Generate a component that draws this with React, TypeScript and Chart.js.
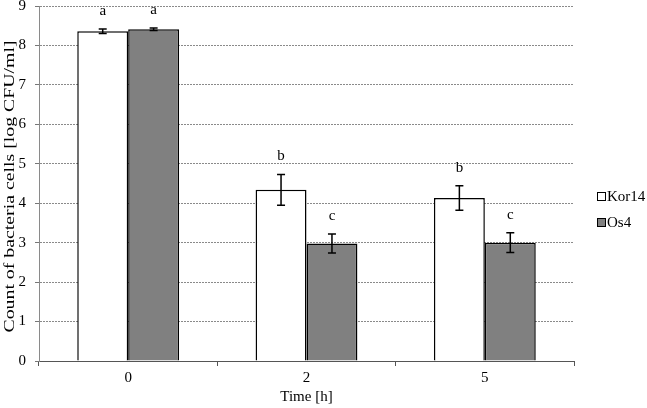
import React, { useEffect, useRef } from "react";
import { Chart, registerables } from "chart.js";

Chart.register(...registerables);

const categories = ["0", "2", "5"];
const seriesNames = ["Kor14", "Os4"];
const kor14 = [8.36, 4.34, 4.13];
const kor14Err = [0.06, 0.39, 0.31];
const os4 = [8.41, 2.98, 3.0];
const os4Err = [0.03, 0.24, 0.25];
const kor14Letters = ["a", "b", "b"];
const os4Letters = ["a", "c", "c"];
const yTicks = [0, 1, 2, 3, 4, 5, 6, 7, 8, 9];
const yTitle = "Count of bacteria cells [log CFU/ml]";
const xTitle = "Time [h]";

const FONT = "'Liberation Serif', 'Times New Roman', serif";

const errs = [kor14Err, os4Err];
const letters = [kor14Letters, os4Letters];
const fills = ["#ffffff", "#808080"];

const annotPlugin = {
  id: "annot",
  afterDatasetsDraw(chart: any) {
    const ctx = chart.ctx;
    const y = chart.scales.y;
    ctx.save();
    chart.data.datasets.forEach((ds: any, di: number) => {
      const meta = chart.getDatasetMeta(di);
      meta.data.forEach((bar: any, i: number) => {
        const v = ds.data[i];
        const e = errs[di][i];
        const x = bar.x;
        const yt = y.getPixelForValue(v + e);
        const yb = y.getPixelForValue(v - e);
        ctx.strokeStyle = "#000";
        ctx.lineWidth = 1.5;
        ctx.beginPath();
        ctx.moveTo(x, yt);
        ctx.lineTo(x, yb);
        ctx.moveTo(x - 4, yt);
        ctx.lineTo(x + 4, yt);
        ctx.moveTo(x - 4, yb);
        ctx.lineTo(x + 4, yb);
        ctx.stroke();
        ctx.fillStyle = "#000";
        ctx.font = `15px ${FONT}`;
        ctx.textAlign = "center";
        ctx.textBaseline = "alphabetic";
        ctx.fillText(letters[di][i], x, yt - 14);
      });
    });
    // legend
    ctx.font = `15px ${FONT}`;
    ctx.textAlign = "left";
    ctx.textBaseline = "middle";
    seriesNames.forEach((name, i) => {
      const cy = 196 + i * 26;
      ctx.fillStyle = fills[i];
      ctx.fillRect(597, cy - 4, 8, 8);
      ctx.strokeStyle = "#000";
      ctx.lineWidth = 1;
      ctx.strokeRect(597.5, cy - 3.5, 8, 8);
      ctx.fillStyle = "#000";
      ctx.fillText(name, 607, cy + 1);
    });
    // y-axis title (stretched along its length like the reference)
    const area = chart.chartArea;
    ctx.translate(10, (area.top + area.bottom) / 2 + 3);
    ctx.rotate(-Math.PI / 2);
    ctx.scale(1.32, 1);
    ctx.font = `15px ${FONT}`;
    ctx.textAlign = "center";
    ctx.textBaseline = "middle";
    ctx.fillStyle = "#000";
    ctx.fillText(yTitle, 0, 0);
    ctx.restore();
  },
};

export default function App() {
  const ref = useRef<HTMLCanvasElement>(null);
  useEffect(() => {
    if (!ref.current) return;
    const chart = new Chart(ref.current, {
      type: "bar",
      data: {
        labels: categories,
        datasets: [
          {
            label: seriesNames[0],
            data: kor14,
            backgroundColor: fills[0],
            borderColor: "#000",
            borderWidth: 1.5,
            categoryPercentage: 0.571,
            barPercentage: 1.0,
          },
          {
            label: seriesNames[1],
            data: os4,
            backgroundColor: fills[1],
            borderColor: "#000",
            borderWidth: 1.5,
            categoryPercentage: 0.571,
            barPercentage: 1.0,
          },
        ],
      },
      options: {
        responsive: false,
        animation: false,
        layout: { padding: { left: 0, right: 73, top: 6, bottom: 0 } },
        plugins: {
          legend: { display: false },
          tooltip: { enabled: false },
        },
        scales: {
          x: {
            afterFit(scale: any) {
              scale.height = 47;
            },
            grid: {
              drawOnChartArea: false,
              drawTicks: true,
              tickLength: 5,
              color: "#555",
              offset: true,
            },
            border: { display: true, color: "#555", width: 1 },
            ticks: { color: "#000", font: { family: FONT, size: 15 }, padding: 3 },
            title: {
              display: true,
              text: xTitle,
              color: "#000",
              font: { family: FONT, size: 15 },
              padding: { top: 1, bottom: 2 },
            },
          },
          y: {
            min: 0,
            max: 9,
            afterFit(scale: any) {
              scale.width = 39;
              scale.paddingTop = 0;
              scale.paddingBottom = 0;
            },
            afterBuildTicks(scale: any) {
              scale.ticks = yTicks.map((v) => ({ value: v }));
            },
            grid: {
              color: "#8a8a8a",
              lineWidth: 1,
              tickLength: 4,
              tickColor: "#777",
            },
            border: { display: true, color: "#8a8a8a", dash: [2, 1] },
            ticks: {
              color: "#000",
              font: { family: FONT, size: 15 },
              padding: 9,
              stepSize: 1,
            },
            title: { display: false },
          },
        },
      },
      plugins: [
        annotPlugin,
        {
          id: "dashgrid",
          beforeDraw(chart: any) {
            const g = chart.scales.y.options.grid;
            g.borderDash = [2, 1];
          },
        },
      ],
    } as any);
    return () => chart.destroy();
  }, []);
  return (
    <div style={{ position: "fixed", left: 0, top: 0, width: 647, height: 408, background: "#fff" }}>
      <canvas ref={ref} width={647} height={408} />
    </div>
  );
}
